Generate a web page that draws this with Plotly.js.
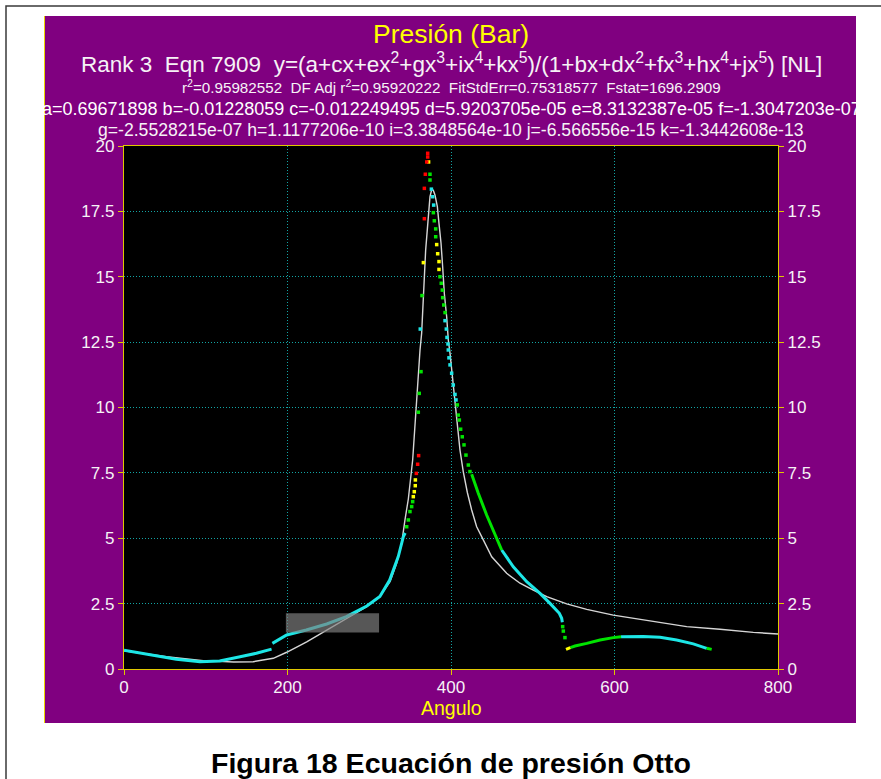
<!DOCTYPE html>
<html>
<head>
<meta charset="utf-8">
<script src="https://cdn.plot.ly/plotly-3.0.1.min.js"></script>
<style>
html,body{margin:0;padding:0;background:#ffffff;}
#chart{width:881px;height:779px;}
</style>
</head>
<body>
<div id="chart"></div>
<script>
// ---- fitted curve ----
const fitX = [0,52,97,134,158,182.6,199,223.5,248,272.4,296.9,313,325.4,333.5,339.7,343.7,347.8,353.1,356,358.8,362.1,364.1,366.1,369,372.3,374.3,376.6,378.4,380.4,383.3,385.3,387.8,389.8,391.8,394.7,396.7,398.8,402,404.9,407.7,411,415,420,425.3,431.4,437.5,449.8,468.1,484.4,500.7,517.1,541.5,566,598.5,647.5,688.3,729,769.8,800];
const fitY = [0.70,0.47,0.32,0.27,0.28,0.41,0.64,1.04,1.49,1.94,2.38,2.77,3.34,4.04,4.81,5.70,6.50,7.99,9.40,10.80,12.20,12.84,14.37,16.02,17.30,18.06,18.36,18.30,18.13,17.68,17.04,16.28,15.38,14.37,13.47,12.58,12.07,11.05,10.16,9.27,8.37,7.55,6.75,6.08,5.44,5.06,4.29,3.66,3.28,3.02,2.77,2.49,2.28,2.06,1.81,1.62,1.52,1.40,1.34];

// ---- data points by colour ----
const cyanLineX = [0,32,64,93,117,142,162,180.5,null,181.5,199,223,248,272,297,313,325,335.5,341.7,344,null,462,476.2,492.6,508.9,521.1,532.5,535.4,536.2,null,608,620,635.2,655.7,676,696.4,712.8];
const cyanLineY = [0.72,0.54,0.37,0.28,0.31,0.47,0.60,0.76,null,0.98,1.30,1.49,1.72,2.00,2.41,2.77,3.40,4.30,5.06,5.20,null,4.55,3.91,3.34,2.89,2.51,2.13,1.94,1.79,null,1.23,1.24,1.24,1.21,1.11,0.96,0.79];
const cyanDotX = [362.4,376,377.6,378.8,392.7,394.3,395.1,396.3,396.7,397.5,398.8,400.8,402.8,404.9,406.1];
const cyanDotY = [13.0,18.35,18.06,17.74,13.32,13.0,12.68,12.43,12.2,11.9,11.63,11.31,10.86,10.50,10.29];

const greenLineX = [425.3,433.4,443.6,452.6,462,null,546,551.7,566,582.3,598.5,608,null,712.8,718.9];
const greenLineY = [7.45,6.72,5.89,5.25,4.55,null,0.82,0.88,0.98,1.11,1.20,1.23,null,0.79,0.75];
const greenDotX = [345.8,347.8,349.8,351.9,353.1,360,361.2,363.3,364.5,374.3,374.3,378.4,379.6,381.3,381.3,386.5,388.1,389.4,389.8,391.1,392.7,407.7,408.9,410.2,411.8,413.8,415.9,418.3,421.2,423.2,536.6,537.4,539.4];
const greenDotY = [5.44,5.70,6.02,6.21,6.40,9.82,10.54,11.37,14.28,18.92,18.70,17.45,17.14,16.83,16.53,15.0,14.75,14.49,14.2,13.92,13.63,10.10,9.71,9.52,9.17,8.88,8.57,8.18,7.80,7.55,1.62,1.45,1.20];

const yellowLineX = [540.7,546];
const yellowLineY = [0.75,0.82];
const yellowDotX = [353.9,355.1,356.3,356.4,366.2,372.6,382.5,383.7,385.3,385.3];
const yellowDotY = [6.59,6.78,7.01,7.23,15.54,19.39,16.23,15.88,15.58,15.28];

const redDotX = [357.6,359.2,360.4,367.4,367.4,368.6,370.3,371.5,371.5];
const redDotY = [7.48,7.83,8.16,17.22,18.38,18.92,19.39,19.58,19.72];

// grey box (data coordinates)
const boxX = [198,312];
const boxY = [1.40,2.13];

// ticks
const xTicks = [0,200,400,600,800];
const yTicks = [0,2.5,5,7.5,10,12.5,15,17.5,20];
const yTickText = ['0','2.5','5','7.5','10','12.5','15','17.5','20'];

// texts
const titleText = 'Presión (Bar)';
const eqnText = 'Rank 3  Eqn 7909  y=(a+cx+ex<sup>2</sup>+gx<sup>3</sup>+ix<sup>4</sup>+kx<sup>5</sup>)/(1+bx+dx<sup>2</sup>+fx<sup>3</sup>+hx<sup>4</sup>+jx<sup>5</sup>) [NL]';
const statText = 'r<sup>2</sup>=0.95982552  DF Adj r<sup>2</sup>=0.95920222  FitStdErr=0.75318577  Fstat=1696.2909';
const coefText1 = 'a=0.69671898 b=-0.01228059 c=-0.012249495 d=5.9203705e-05 e=8.3132387e-05 f=-1.3047203e-07';
const coefText2 = 'g=-2.5528215e-07 h=1.1177206e-10 i=3.3848564e-10 j=-6.566556e-15 k=-1.3442608e-13';
const xTitle = 'Angulo';
const caption = 'Figura 18 Ecuación de presión Otto';

const FONT = '"Liberation Sans", Arial, sans-serif';
const CYAN = '#1de6e6', GREEN = '#00e400', YELLOW = '#ffff00', RED = '#ff0000';
const AXC = '#e0c800';
const TXT = '#f6f2f6';

const W = 881, H = 779;
const L = 124, R = 103, T = 146, B = 110;
const pw = W - L - R, ph = H - T - B;
const px = v => (v - L) / pw;          // pixel x -> paper
const py = v => (H - B - v) / ph;      // pixel y -> paper

const dot = (x, y, c) => ({x, y, type:'scatter', mode:'markers', marker:{color:c, size:3.5, symbol:'square'}, hoverinfo:'skip', showlegend:false});
const ln = (x, y, c, w) => ({x, y, type:'scatter', mode:'lines', line:{color:c, width:w}, connectgaps:false, hoverinfo:'skip', showlegend:false});

const traces = [
  ln(fitX, fitY, '#d6d6d6', 1.4),
  ln(cyanLineX, cyanLineY, CYAN, 3),
  ln(greenLineX, greenLineY, GREEN, 3),
  ln(yellowLineX, yellowLineY, YELLOW, 3),
  dot(cyanDotX, cyanDotY, CYAN),
  dot(greenDotX, greenDotY, GREEN),
  dot(yellowDotX, yellowDotY, YELLOW),
  dot(redDotX, redDotY, RED),
  {x:[], y:[], type:'scatter', mode:'markers', yaxis:'y2', showlegend:false, hoverinfo:'skip'}
];

const axisCommon = {
  showline:true, linecolor:AXC, linewidth:1.2,
  ticks:'outside', ticklen:5, tickcolor:AXC, tickwidth:1,
  showgrid:true, gridcolor:'#12a4a4', griddash:'1px,2px', gridwidth:1,
  zeroline:false, fixedrange:true,
  tickfont:{family:FONT, size:17, color:TXT}
};

const ann = (text, yPix, size, color) => ({text, xref:'paper', yref:'paper', x:0.5, y:py(yPix), xanchor:'center', yanchor:'middle', showarrow:false, font:{family:FONT, size, color}});

const layout = {
  width:W, height:H,
  margin:{l:L, r:R, t:T, b:B, pad:0},
  paper_bgcolor:'#ffffff', plot_bgcolor:'#000000',
  showlegend:false,
  xaxis:Object.assign({}, axisCommon, {range:[0,800], tickvals:xTicks, ticktext:xTicks.map(String), mirror:true, ticklabelstandoff:-3}),
  yaxis:Object.assign({}, axisCommon, {range:[0,20], tickvals:yTicks, ticktext:yTickText, mirror:true}),
  yaxis2:Object.assign({}, axisCommon, {range:[0,20], tickvals:yTicks, ticktext:yTickText, overlaying:'y', side:'right', showgrid:false}),
  shapes:[
    {type:'rect', xref:'paper', yref:'paper', x0:px(6), x1:px(900), y0:py(800), y1:py(6), line:{color:'#3a3a3a', width:1.5}, fillcolor:'rgba(0,0,0,0)', layer:'below'},
    {type:'rect', xref:'paper', yref:'paper', x0:px(44), x1:px(856), y0:py(723), y1:py(16), line:{width:0}, fillcolor:'#800080', layer:'below'},
    {type:'line', xref:'paper', yref:'paper', x0:px(44.5), x1:px(44.5), y0:py(723), y1:py(16), line:{color:'#e8d800', width:1}, layer:'below'},
    {type:'rect', xref:'paper', yref:'paper', x0:0, x1:1, y0:0, y1:1, line:{width:0}, fillcolor:'#000000', layer:'below'},
    {type:'rect', xref:'x', yref:'y', x0:boxX[0], x1:boxX[1], y0:boxY[0], y1:boxY[1], line:{width:0}, fillcolor:'rgba(128,128,128,0.68)', layer:'above'}
  ],
  annotations:[
    ann(titleText, 34, 26.5, YELLOW),
    ann(eqnText, 63, 22.5, TXT),
    ann(statText, 87, 15.2, TXT),
    ann(coefText1, 109, 18, '#ffffff'),
    ann(coefText2, 130, 17.6, TXT),
    ann(xTitle, 708, 19.5, YELLOW),
    ann('<b>'+caption+'</b>', 763, 28.5, '#000000')
  ]
};

Plotly.newPlot('chart', traces, layout, {staticPlot:true, displayModeBar:false});
</script>
</body>
</html>
